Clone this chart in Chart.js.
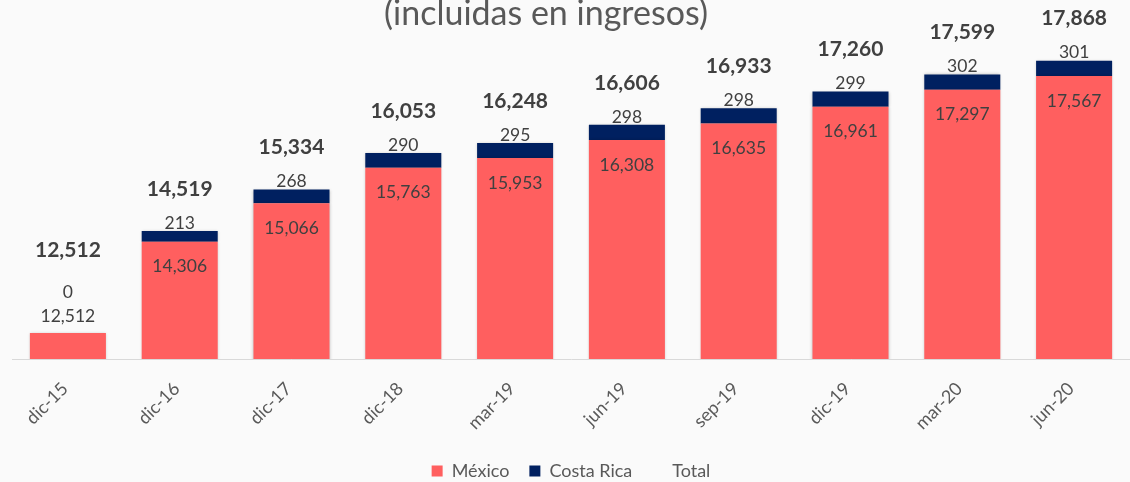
<!DOCTYPE html>
<html>
<head>
<meta charset="utf-8">
<script src="https://cdn.jsdelivr.net/npm/chart.js@4/dist/chart.umd.min.js"></script>
<style>
    html, body { margin: 0; padding: 0; background: #fafafa; overflow: hidden; }
    #wrap { width: 1130px; height: 490px; }
</style>
</head>
<body>
<div id="wrap"><canvas id="sucursales"></canvas></div>
<script>
const periodos = ['dic-15', 'dic-16', 'dic-17', 'dic-18', 'mar-19', 'jun-19', 'sep-19', 'dic-19', 'mar-20', 'jun-20'];
const mexico = [12512, 14306, 15066, 15763, 15953, 16308, 16635, 16961, 17297, 17567];
const costaRica = [0, 213, 268, 290, 295, 298, 298, 299, 302, 301];
const totales = [12512, 14519, 15334, 16053, 16248, 16606, 16933, 17260, 17599, 17868];

const fmt = n => n.toLocaleString('en-US');

const fondo = {
    id: 'fondo',
    beforeDraw(chart) {
        const c = chart.ctx;
        c.save();
        c.fillStyle = '#fafafa';
        c.fillRect(0, 0, chart.width, chart.height);
        c.restore();
    }
};

const etiquetas = {
    id: 'etiquetas',
    beforeDatasetsDraw(chart) {
        const c = chart.ctx;
        c.save();
        c.shadowColor = 'rgba(0,0,0,0.22)';
        c.shadowBlur = 3;
    },
    afterDatasetsDraw(chart) {
        const c = chart.ctx;
        c.restore();
        const piso = chart.chartArea.bottom;
        const mx = chart.getDatasetMeta(0).data;
        const cr = chart.getDatasetMeta(1).data;
        c.save();
        c.textAlign = 'center';
        c.textBaseline = 'middle';
        mx.forEach((bar, i) => {
            const alto = Math.min(bar.base, piso) - bar.y;
            let yMx, yCr, yTot;
            if (alto > 40) {
                yMx = bar.y + 25;
                yCr = cr[i].y - 8;
                yTot = yCr - 34;
            } else {
                yMx = bar.y - 17;
                yCr = yMx - 24;
                yTot = yCr - 42;
            }
            c.fillStyle = '#404040';
            c.font = '17.5px Lato';
            c.fillText(fmt(mexico[i]), bar.x, yMx);
            c.fillText(fmt(costaRica[i]), bar.x, yCr);
            c.font = 'bold 21px Lato';
            c.fillText(fmt(totales[i]), bar.x, yTot);
        });
        // titulo (la primera linea queda fuera del cuadro)
        c.font = '34px Lato';
        c.fillStyle = '#595959';
        c.textBaseline = 'alphabetic';
        c.fillText('(incluidas en ingresos)', 546, 25);
        c.restore();
    }
};

new Chart(document.getElementById('sucursales'), {
    data: {
        labels: periodos,
        datasets: [
            {
                type: 'bar',
                label: 'México',
                data: mexico,
                backgroundColor: '#ff5f5f',
                stack: 'a',
                barPercentage: 0.68,
                categoryPercentage: 1
            },
            {
                type: 'bar',
                label: 'Costa Rica',
                data: costaRica,
                backgroundColor: '#002060',
                stack: 'a',
                barPercentage: 0.68,
                categoryPercentage: 1
            },
            {
                type: 'line',
                label: 'Total',
                data: totales,
                stack: 'total',
                borderColor: 'rgba(0,0,0,0)',
                backgroundColor: 'rgba(0,0,0,0)',
                pointRadius: 0,
                showLine: false
            }
        ]
    },
    plugins: [fondo, etiquetas],
    options: {
        responsive: true,
        maintainAspectRatio: false,
        animation: false,
        layout: { padding: { left: 12, right: 0, top: 54, bottom: 0 } },
        scales: {
            x: {
                stacked: true,
                grid: { display: false },
                border: { display: true, color: '#d9d9d9', width: 1 },
                ticks: {
                    minRotation: 45,
                    maxRotation: 45,
                    padding: 11,
                    labelOffset: -3,
                    color: '#595959',
                    font: { family: 'Lato', size: 18 }
                },
                afterFit(scale) { scale.height = 83; }
            },
            y: {
                stacked: true,
                display: false,
                min: 12000,
                max: 18000
            }
        },
        plugins: {
            legend: {
                position: 'bottom',
                labels: {
                    boxWidth: 11,
                    boxHeight: 11,
                    padding: 20,
                    color: '#595959',
                    font: { family: 'Lato', size: 18 }
                }
            },
            tooltip: { enabled: false }
        }
    }
});
</script>
</body>
</html>
